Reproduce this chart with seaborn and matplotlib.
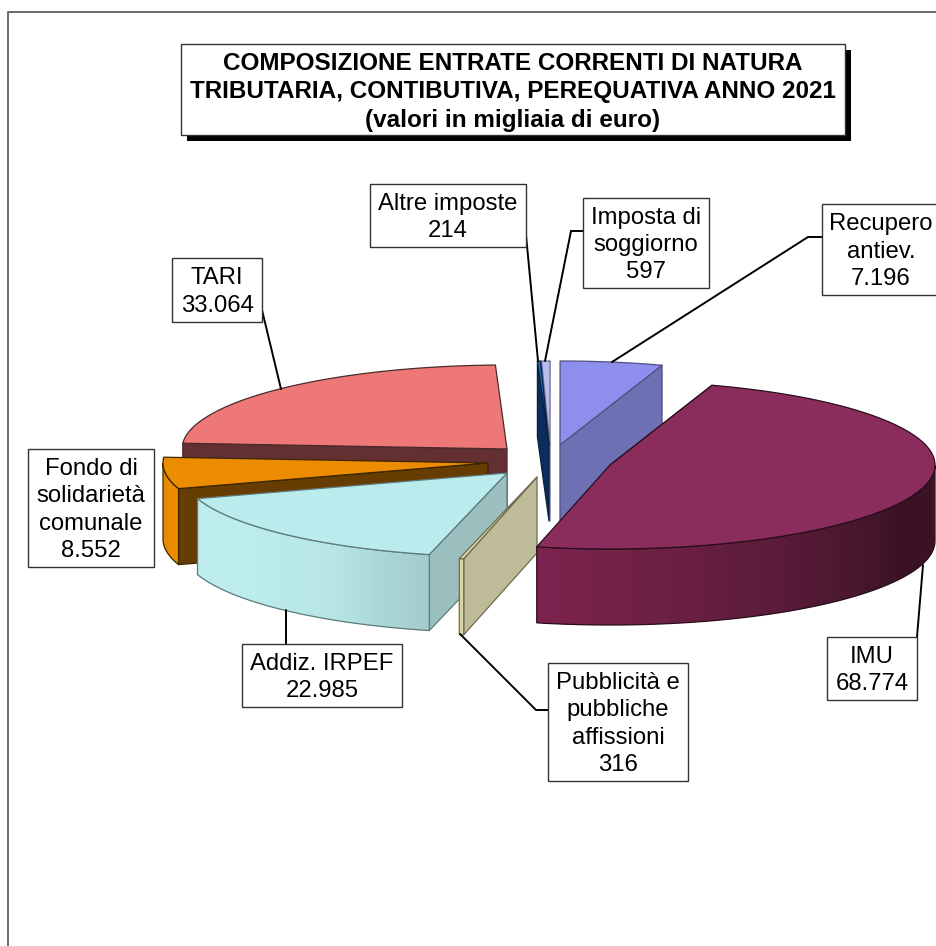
import numpy as np
import matplotlib
matplotlib.use("Agg")
import matplotlib.pyplot as plt
from matplotlib.patches import Polygon, Rectangle
import seaborn as sns

# ---------- data (anticlockwise order round the pie) ----------
categories = ["Recupero\nantiev.", "Imposta di\nsoggiorno", "Altre imposte", "TARI",
              "Fondo di\nsolidarietà\ncomunale", "Addiz. IRPEF",
              "Pubblicità e\npubbliche\naffissioni", "IMU"]
values = [7196, 597, 214, 33064, 8552, 22985, 316, 68774]
title_lines = ["COMPOSIZIONE ENTRATE CORRENTI DI NATURA",
               "TRIBUTARIA, CONTIBUTIVA, PEREQUATIVA ANNO 2021",
               "(valori in migliaia di euro)"]

# ---------- style / layout (pixel space of the figure) ----------
W, H = 936, 946
START = 71.7
RX, RY, DEPTH = 325, 84, 76
centers = [(560, 445), (550, 445), (549, 445), (507, 449),
           (488, 463), (507, 473), (537, 477), (610, 465)]
top_colors = ["#8e8eee", "#bcbcee", "#1a6fc4", "#ee7777", "#ec8c00", "#bbeced", "#dcd8a8", "#8b2d5c"]
face_colors = ["#6e70b4", "#8c8cc0", "#0a2d5c", "#632f31", "#663c00", "#9bbfbf", "#bebc98", "#5a1c3a"]
rim_ramps = [["#6e70b4", "#6e70b4"], ["#8c8cc0", "#8c8cc0"], ["#0a2d5c", "#0a2d5c"], ["#632f31", "#632f31"],
             ["#e08600", "#ee8e00"], ["#bcecec", "#bcecec", "#b8e6e6", "#a3cccc"],
             ["#d8d4a6", "#d8d4a6"], ["#7c234e", "#6a1f42", "#521a34", "#3a1224", "#3a1224"]]
edge_colors = ["#50507c", "#6a6a90", "#0a2040", "#4a2a2a", "#3c2600", "#5e7a7a", "#6e6c50", "#2a0e1c"]
face_from_start = [True, False, False, False, False, False, False, False]

boxes = [(822, 204, 118, 91), (583, 198, 126, 90), (370, 184, 156, 63), (172, 258, 90, 64),
         (28, 449, 126, 118), (242, 644, 160, 63), (548, 663, 140, 118), (827, 637, 90, 63)]
leaders = [[(822, 237), (808, 237), (612, 362)], [(583, 231), (571, 231), (545, 361)],
           [(526, 235), (538, 361)], [(262, 310), (281, 389)], None,
           [(286, 644), (286, 610)], [(548, 710), (536, 710), (460, 634)], [(917, 637), (923, 565)]]
LABEL_SIZE = 17.2
TITLE_SIZE = 17.5
FONT = "Liberation Sans"
draw_order = [3, 4, 5, 1, 2, 0, 6, 7]

sns.set_theme(style="white")
plt.rcParams["font.family"] = ["Liberation Sans", "DejaVu Sans"]
fig = plt.figure(figsize=(W / 100, H / 100), dpi=100)
ax = fig.add_axes([0, 0, 1, 1])
ax.set_xlim(0, W)
ax.set_ylim(H, 0)
ax.axis("off")

sweeps = np.array(values) / sum(values) * 360
starts = START + np.concatenate([[0], np.cumsum(sweeps)[:-1]])


def rim_point(c, t):
    r = np.radians(t)
    return c[0] + RX * np.cos(r), c[1] - RY * np.sin(r)


def arc(c, t0, t1, n=90):
    ts = np.linspace(t0, t1, n)
    return np.column_stack(rim_point(c, ts))


def draw_slice(i):
    c, t0, sw = centers[i], starts[i], sweeps[i]
    t1 = t0 + sw
    edge = edge_colors[i]
    # radial cut face
    t_face = t0 if face_from_start[i] else t1
    rx_, ry_ = rim_point(c, t_face)
    ax.add_patch(Polygon([c, (rx_, ry_), (rx_, ry_ + DEPTH), (c[0], c[1] + DEPTH)], closed=True,
                         fc=face_colors[i], ec=edge, lw=0.9, joinstyle="round"))
    # outer rim, shaded from left to right through a blended palette
    lo, hi = max(t0, 180), min(t1, 360)
    if hi > lo:
        n = max(int(hi - lo), 2)
        ts = np.linspace(lo, hi, n + 1)
        ramp = sns.blend_palette(rim_ramps[i], n)
        for k in range(n):
            # each strip reaches under the next one, so no seams show
            a = arc(c, ts[k], ts[min(k + 2, n)], 6)
            b = a[::-1] + [0, DEPTH]
            ax.add_patch(Polygon(np.vstack([a, b]), closed=True, fc=ramp[k], ec="none", lw=0))
        a = arc(c, lo, hi)
        outline = np.vstack([a, a[::-1] + [0, DEPTH]])
        ax.add_patch(Polygon(outline, closed=True, fc="none", ec=edge, lw=0.9))
    # top
    ax.add_patch(Polygon(np.vstack([[c], arc(c, t0, t1)]), closed=True,
                         fc=top_colors[i], ec=edge, lw=0.9, joinstyle="round"))


for i in draw_order:
    draw_slice(i)

# leader lines
for pts in leaders:
    if pts:
        xs, ys = zip(*pts)
        ax.plot(xs, ys, color="black", lw=1.4, solid_joinstyle="miter")

# data labels
for cat, val, (x, y, w, h) in zip(categories, values, boxes):
    ax.add_patch(Rectangle((x, y), w, h, fc="white", ec="#333333", lw=1.0, zorder=5))
    text = f"{cat}\n{val:,}".replace(",", ".")
    ax.text(x + w / 2, y + h / 2 + 2, text, ha="center", va="center", fontsize=LABEL_SIZE,
            family=FONT, color="black", linespacing=1.3, zorder=6)

# title box with hard shadow
ax.add_patch(Rectangle((187, 50), 664, 91, fc="black", ec="black", lw=0, zorder=5))
ax.add_patch(Rectangle((181, 44), 664, 91, fc="white", ec="#333333", lw=1.0, zorder=6))
for line, y in zip(title_lines, (63, 91.5, 120.5)):
    ax.text(513, y, line, ha="center", va="center", fontsize=TITLE_SIZE, fontweight="bold",
            family=FONT, color="black", zorder=7)

# outer frame (only top and left fall inside the picture)
ax.plot([8, 8, W], [H, 12, 12], color="#6a6a6a", lw=1.4, zorder=1)

fig.savefig("out.png", dpi=100)
